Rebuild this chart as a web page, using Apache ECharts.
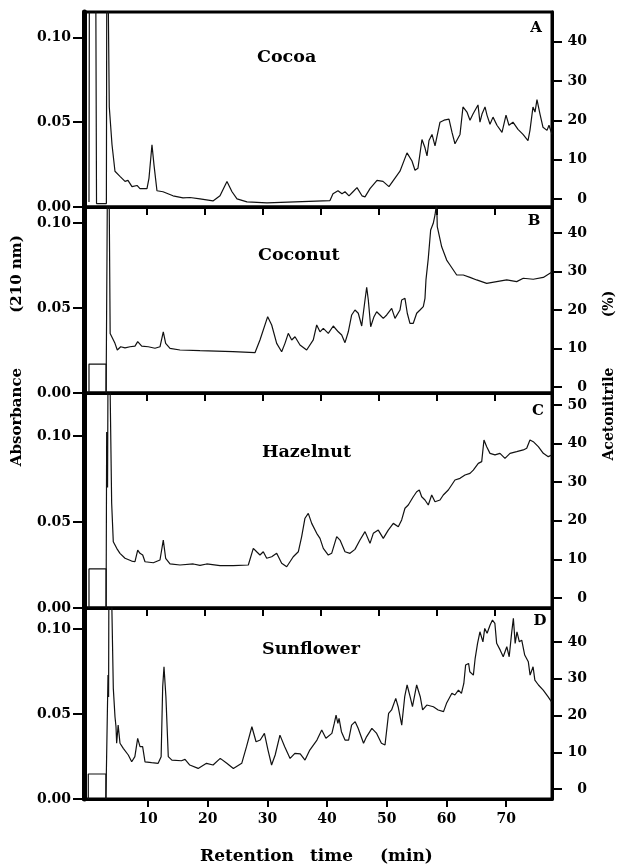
<!DOCTYPE html>
<html><head><meta charset="utf-8">
<script src="https://cdn.jsdelivr.net/npm/echarts@6/dist/echarts.min.js"></script>
<style>html,body{margin:0;padding:0;background:#fff}#c{width:620px;height:865px}</style>
</head><body><div id="c"></div>
<script>
// ---------- tick labels ----------
const timeTicks = [10, 20, 30, 40, 50, 60, 70];
const absTicks = [0, 0.05, 0.10];
const acnTicks = [0, 10, 20, 30, 40];
const acnTicksHazelnut = [0, 10, 20, 30, 40, 50];

// ---------- panel texts ----------
const panelNames = ['Cocoa', 'Coconut', 'Hazelnut', 'Sunflower'];
const panelLetters = ['A', 'B', 'C', 'D'];

// ---------- chromatograms: [retention time (min), absorbance at 210 nm] ----------
const cocoa = [[0,0.003],[0.1,0.2],[1.1,0.2],[1.3,0.002],[3.0,0.002],[3.1,0.2],[3.3,0.2],[3.5,0.059],[3.97,0.0367],[4.48,0.0211],[5.34,0.0181],[6.21,0.0151],[6.72,0.0157],[7.41,0.012],[8.28,0.0127],[8.79,0.0108],[10.0,0.0108],[10.34,0.0169],[10.86,0.0367],[11.21,0.0247],[11.72,0.0096],[12.76,0.009],[14.48,0.0066],[16.21,0.0054],[17.41,0.0056],[19.14,0.0048],[21.38,0.0036],[22.59,0.0066],[23.79,0.0151],[24.66,0.009],[25.52,0.0048],[27.24,0.003],[30.69,0.0024],[41.55,0.0038],[42.07,0.0078],[42.93,0.0096],[43.62,0.0078],[44.14,0.009],[44.83,0.0066],[45.52,0.009],[46.21,0.0114],[47.07,0.0066],[47.59,0.006],[48.45,0.0108],[49.66,0.0157],[50.69,0.0151],[51.72,0.012],[53.10,0.0187],[53.62,0.0211],[54.83,0.0319],[55.69,0.0271],[56.21,0.0217],[56.72,0.0229],[57.41,0.0398],[57.93,0.0349],[58.28,0.0301],[58.62,0.0392],[59.14,0.0428],[59.66,0.0361],[60.52,0.05],[61.21,0.0512],[62.07,0.0518],[62.59,0.044],[63.10,0.0373],[63.97,0.0428],[64.48,0.059],[65.17,0.056],[65.69,0.0512],[66.21,0.0548],[67.07,0.0602],[67.41,0.05],[67.76,0.0548],[68.28,0.059],[68.62,0.0542],[69.14,0.0488],[69.66,0.053],[70.34,0.0482],[71.21,0.044],[71.90,0.0542],[72.41,0.0482],[73.10,0.05],[73.97,0.0458],[74.83,0.0428],[75.69,0.0392],[76.03,0.0452],[76.55,0.059],[76.90,0.056],[77.24,0.0633],[77.76,0.0548],[78.28,0.047],[78.97,0.0452],[79.31,0.0482],[79.83,0.0428]];

const coconut = [[2.95,0],[3.1,0.079],[3.3,0.2],[3.5,0.2],[3.65,0.035],[4.48,0.0292],[4.88,0.0253],[5.47,0.0272],[6.21,0.0265],[7.07,0.0272],[7.93,0.0276],[8.40,0.0302],[9.09,0.0276],[10.22,0.0272],[11.38,0.0263],[12.24,0.0272],[12.81,0.036],[13.22,0.0292],[13.97,0.0263],[15.69,0.0253],[19.14,0.0249],[24.83,0.0243],[28.62,0.0237],[29.48,0.0312],[30.81,0.0449],[31.5,0.04],[32.36,0.0292],[33.22,0.0243],[33.79,0.0292],[34.36,0.0351],[34.95,0.0312],[35.52,0.0331],[36.38,0.0282],[37.53,0.0253],[38.67,0.0312],[39.26,0.04],[39.83,0.036],[40.40,0.038],[41.26,0.0351],[42.12,0.0394],[42.98,0.036],[43.57,0.0341],[44.14,0.0296],[44.71,0.036],[45.29,0.0459],[45.86,0.0488],[46.43,0.0469],[47.02,0.0394],[47.59,0.0547],[47.88,0.0622],[48.16,0.0547],[48.57,0.039],[49.14,0.0449],[49.60,0.0478],[50.17,0.0459],[50.74,0.0439],[51.33,0.0459],[52.19,0.0498],[52.76,0.0439],[53.62,0.0488],[53.91,0.0547],[54.48,0.0557],[54.88,0.0469],[55.34,0.041],[55.91,0.041],[56.50,0.0469],[57.07,0.0488],[57.64,0.0508],[57.93,0.0557],[58.10,0.0665],[58.50,0.0792],[58.91,0.0959],[59.36,0.0998],[59.66,0.1047],[59.95,0.112],[60.05,0.0978],[60.81,0.086],[61.67,0.0782],[62.24,0.0753],[63.40,0.0694],[64.53,0.0694],[65.69,0.068],[66.84,0.0665],[68.57,0.0645],[70.29,0.0655],[72.02,0.0665],[73.74,0.0655],[74.88,0.0675],[76.60,0.0669],[78.33,0.068],[79.48,0.0704],[79.83,0.071]];

const hazelnut = [[2.95,0],[3.05,0.1023],[3.2,0.07],[3.35,0.2],[3.55,0.2],[3.91,0.0609],[4.19,0.0385],[4.48,0.0376],[4.78,0.0347],[5.34,0.0318],[6.21,0.0289],[7.36,0.0273],[7.93,0.0269],[8.40,0.0337],[8.79,0.0318],[9.26,0.0308],[9.66,0.0269],[11.09,0.0263],[12.24,0.0279],[12.81,0.0395],[13.22,0.0289],[13.97,0.0256],[15.69,0.025],[17.98,0.0256],[19.14,0.0248],[20.29,0.0256],[22.59,0.0246],[24.88,0.0246],[27.47,0.025],[28.33,0.0347],[28.91,0.0327],[29.48,0.0308],[30.05,0.0327],[30.64,0.0289],[31.5,0.0298],[32.36,0.0318],[33.22,0.026],[34.09,0.024],[35.22,0.0298],[36.09,0.0327],[36.67,0.0415],[37.24,0.0522],[37.81,0.055],[38.40,0.0492],[39.26,0.0434],[39.83,0.0405],[40.40,0.0347],[41.26,0.0308],[41.84,0.0318],[42.71,0.0415],[43.28,0.0395],[44.14,0.0327],[45.0,0.0318],[45.86,0.0341],[46.72,0.0395],[47.59,0.0444],[48.45,0.0376],[49.02,0.0434],[49.88,0.0453],[50.74,0.0405],[51.60,0.0453],[52.47,0.0492],[53.33,0.0473],[53.91,0.0512],[54.48,0.058],[55.05,0.0599],[55.91,0.0647],[56.50,0.0676],[56.95,0.0686],[57.36,0.0647],[57.93,0.0628],[58.50,0.0599],[59.09,0.0657],[59.66,0.0618],[60.52,0.0628],[61.09,0.0657],[61.95,0.0686],[62.53,0.0715],[63.10,0.0744],[63.97,0.0754],[64.83,0.0773],[65.69,0.0783],[66.26,0.0802],[67.12,0.0841],[67.71,0.0851],[68.10,0.0977],[68.57,0.0938],[69.14,0.0899],[70.0,0.089],[70.86,0.0899],[71.72,0.087],[72.59,0.0899],[73.74,0.0909],[74.88,0.0919],[75.47,0.0929],[76.03,0.0977],[76.60,0.0967],[77.47,0.0938],[78.33,0.0899],[79.19,0.088],[79.78,0.089]];

const sunflower = [[2.95,0],[3.3,0.073],[3.4,0.06],[3.5,0.2],[3.75,0.2],[4.19,0.0651],[4.47,0.0484],[4.64,0.0425],[4.75,0.0328],[5.0,0.0435],[5.31,0.0328],[5.86,0.0298],[6.7,0.0259],[7.27,0.0219],[7.8,0.0249],[8.27,0.0357],[8.66,0.0308],[9.1,0.0308],[9.5,0.0219],[10.6,0.0214],[11.7,0.021],[12.2,0.0249],[12.46,0.0661],[12.68,0.0778],[13.0,0.0602],[13.4,0.0249],[14.0,0.0229],[15.6,0.0225],[16.2,0.0233],[17.0,0.02],[18.4,0.018],[19.8,0.021],[20.9,0.02],[22.1,0.0239],[23.2,0.021],[24.3,0.018],[25.7,0.021],[26.5,0.0308],[27.4,0.0425],[28.1,0.0337],[28.8,0.0347],[29.5,0.0386],[30.1,0.0288],[30.7,0.02],[31.3,0.0259],[32.1,0.0376],[32.9,0.0308],[33.8,0.0239],[34.6,0.0269],[35.5,0.0265],[36.3,0.0229],[37.1,0.0288],[38.3,0.0347],[39.1,0.0406],[39.8,0.0357],[40.8,0.0386],[41.2,0.0445],[41.5,0.0494],[41.8,0.0445],[42.0,0.0475],[42.4,0.0396],[43.0,0.0347],[43.6,0.0347],[44.1,0.0435],[44.7,0.0455],[45.2,0.0416],[46.1,0.0328],[46.6,0.0366],[47.5,0.0416],[48.3,0.0386],[49.1,0.0328],[49.7,0.0318],[50.3,0.0504],[50.8,0.0524],[51.5,0.0592],[51.9,0.0543],[52.5,0.0435],[53.0,0.0602],[53.4,0.0671],[53.9,0.0602],[54.3,0.0543],[55.0,0.0671],[55.6,0.0602],[56.0,0.0524],[56.7,0.0553],[57.8,0.0543],[58.6,0.0524],[59.5,0.0514],[60.0,0.0563],[60.9,0.0622],[61.4,0.0612],[62.0,0.0641],[62.5,0.0622],[62.9,0.068],[63.2,0.0788],[63.7,0.0798],[63.9,0.0749],[64.5,0.0729],[64.8,0.0828],[65.2,0.0916],[65.6,0.0984],[66.1,0.0925],[66.4,0.1004],[66.8,0.0975],[67.3,0.1024],[67.7,0.1053],[68.1,0.1034],[68.4,0.0916],[69.0,0.0876],[69.5,0.0837],[70.1,0.0896],[70.5,0.0837],[70.9,0.0975],[71.2,0.1063],[71.5,0.0916],[71.8,0.0984],[72.2,0.0925],[72.6,0.0935],[73.1,0.0847],[73.7,0.0808],[74.0,0.0729],[74.5,0.0778],[74.8,0.07],[75.4,0.0671],[76.2,0.0641],[77.0,0.0602],[77.6,0.0572]];

// ---------- injection markers (box at start) ----------
const coconutBox = [[0,0],[0,0.017],[2.95,0.017],[2.95,0]];
const hazelnutBox = [[0,0],[0,0.0227],[2.95,0.0227],[2.95,0]];
const sunflowerBox = [[0,0],[0,0.0147],[2.95,0.0147],[2.95,0]];

const seriesData = [cocoa, coconut, hazelnut, sunflower];
const boxData = [null, coconutBox, hazelnutBox, sunflowerBox];

// ---------- layout ----------
const FONT = '"DejaVu Serif", "Liberation Serif", serif';
const panels = [
  {top: 12,  height: 195, absMax: 0.115,  acnMin: -2.04, acnMax: 47.58, acn: acnTicks,          tMin: -0.86, tMax: 79.83, name: [257, 57],  letter: [536, 28]},
  {top: 207, height: 186, absMax: 0.1094, acnMin: -1.56, acnMax: 46.75, acn: acnTicks,          tMin: -0.86, tMax: 79.83, name: [258, 255], letter: [534, 221]},
  {top: 393, height: 215, absMax: 0.125,  acnMin: -2.59, acnMax: 53.1,  acn: acnTicksHazelnut,  tMin: -0.86, tMax: 79.83, name: [262, 452], letter: [538, 411]},
  {top: 608, height: 191, absMax: 0.1124, acnMin: -2.72, acnMax: 49.25, acn: acnTicks,          tMin: -0.72, tMax: 77.67, name: [262, 649], letter: [540, 621]}
];

const labelStyle = {fontFamily: FONT, fontWeight: 'bold', fontSize: 14, color: '#000'};
const grids = [], xAxes = [], yAxes = [], series = [];
panels.forEach((p, i) => {
  grids.push({left: 84, right: 68, top: p.top, height: p.height, show: true,
    borderColor: '#000', borderWidth: 3, backgroundColor: 'transparent'});
  xAxes.push({gridIndex: i, type: 'value', min: p.tMin, max: p.tMax,
    axisLine: {show: true, onZero: false, lineStyle: {color: '#000', width: 3}},
    axisTick: {show: true, customValues: timeTicks, length: 8, lineStyle: {color: '#000', width: 2}},
    axisLabel: Object.assign({show: i === 3, customValues: timeTicks, margin: 13}, labelStyle),
    splitLine: {show: false}});
  yAxes.push({gridIndex: i, type: 'value', position: 'left', min: 0, max: p.absMax,
    axisLine: {show: true, onZero: false, lineStyle: {color: '#000', width: 5}},
    axisTick: {show: true, customValues: absTicks, length: 11, lineStyle: {color: '#000', width: 2}},
    axisLabel: Object.assign({customValues: absTicks, margin: 13, formatter: v => v.toFixed(2)}, labelStyle),
    splitLine: {show: false}});
  yAxes.push({gridIndex: i, type: 'value', position: 'right', min: p.acnMin, max: p.acnMax,
    axisLine: {show: true, onZero: false, lineStyle: {color: '#000', width: 3}},
    axisTick: {show: true, customValues: p.acn, length: 10, lineStyle: {color: '#000', width: 2}},
    axisLabel: Object.assign({customValues: p.acn, margin: 35, align: 'right'}, labelStyle),
    splitLine: {show: false}});
  series.push({type: 'line', xAxisIndex: i, yAxisIndex: 2 * i, data: seriesData[i],
    showSymbol: false, symbol: 'none', clip: true,
    lineStyle: {color: '#111', width: 1.2}});
  if (boxData[i]) {
    series.push({type: 'line', xAxisIndex: i, yAxisIndex: 2 * i, data: boxData[i],
      showSymbol: false, symbol: 'none', clip: true,
      lineStyle: {color: '#111', width: 1.2}});
  }
});

function txt(text, x, y, size, align, rot) {
  return {type: 'text', x: x, y: y, rotation: rot || 0, z: 100,
    style: {text: text, font: 'bold ' + size + 'px ' + FONT, fill: '#000',
      align: align, verticalAlign: 'middle', textAlign: align, textVerticalAlign: 'middle'}};
}
const graphics = [];
panels.forEach((p, i) => {
  graphics.push(txt(panelNames[i], p.name[0], p.name[1], 17.5, 'left'));
  graphics.push(txt(panelLetters[i], p.letter[0], p.letter[1], 15, 'center'));
});
graphics.push(txt('Absorbance', 17, 417, 15, 'center', Math.PI / 2));
graphics.push(txt('(210 nm)', 17, 274, 15, 'center', Math.PI / 2));
graphics.push(txt('Acetonitrile', 609, 414, 14, 'center', Math.PI / 2));
graphics.push(txt('(%)', 609, 304, 14, 'center', Math.PI / 2));
graphics.push(txt('Retention', 200, 857, 17, 'left'));
graphics.push(txt('time', 310, 857, 17, 'left'));
graphics.push(txt('(min)', 380, 857, 17, 'left'));

const chart = echarts.init(document.getElementById('c'), null, {renderer: 'canvas'});
chart.setOption({
  animation: false,
  backgroundColor: '#fff',
  grid: grids, xAxis: xAxes, yAxis: yAxes, series: series, graphic: graphics
});
</script></body></html>
